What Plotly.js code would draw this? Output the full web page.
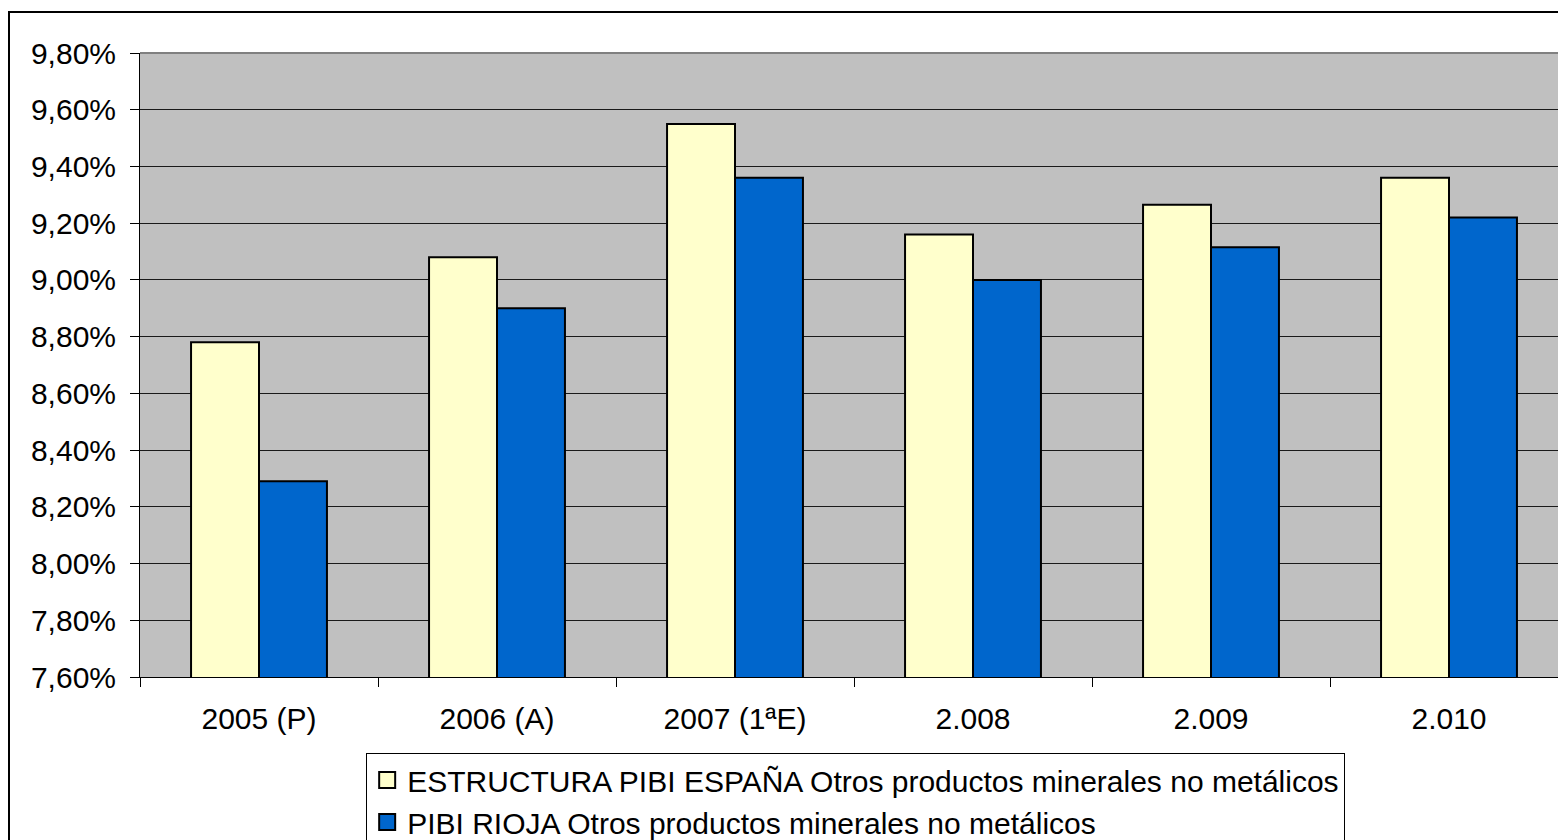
<!DOCTYPE html>
<html>
<head>
<meta charset="utf-8">
<script src="https://cdn.plot.ly/plotly-3.0.1.min.js"></script>
<style>
html,body{margin:0;padding:0;background:#fff;overflow:hidden;}
#wrap{position:relative;width:1558px;height:840px;}
#chart{position:absolute;left:0;top:0;width:1558px;height:840px;}
#frame{position:absolute;left:8px;top:11px;width:1600px;height:900px;border:2px solid #000;pointer-events:none;box-sizing:border-box;}
</style>
</head>
<body>
<div id="wrap"><div id="chart"></div><div id="frame"></div></div>
<script>
const categories = ["2005 (P)", "2006 (A)", "2007 (1ªE)", "2.008", "2.009", "2.010"];
const espana = [8.78, 9.08, 9.55, 9.16, 9.265, 9.36];
const rioja = [8.29, 8.90, 9.36, 9.00, 9.115, 9.22];
const seriesNames = ["ESTRUCTURA PIBI ESPAÑA Otros productos minerales no metálicos", "PIBI RIOJA Otros productos minerales no metálicos"];
const seriesColors = ["#FFFFCC", "#0066CC"];
const yTicks = [7.6, 7.8, 8.0, 8.2, 8.4, 8.6, 8.8, 9.0, 9.2, 9.4, 9.6, 9.8];
const yTickText = yTicks.map(v => v.toFixed(2).replace(".", ",") + "%");

const font = "'Liberation Sans', Arial, sans-serif";
const values = [espana, rioja];
const traces = [];
values.forEach((vals, i) => {
  traces.push({type: "bar", name: seriesNames[i], x: categories, y: vals, showlegend: false,
    legendgroup: "g" + i,
    marker: {color: seriesColors[i], line: {color: "#000", width: 2}}});
});
values.forEach((vals, i) => {
  traces.push({type: "scatter", mode: "markers", name: seriesNames[i], x: [null], y: [null],
    legendgroup: "g" + i, showlegend: true,
    marker: {symbol: "square", size: 16, color: seriesColors[i], line: {color: "#000", width: 2}}});
});

const layout = {
  width: 1558, height: 840,
  margin: {l: 140, r: 0, t: 53, b: 163, autoexpand: false},
  paper_bgcolor: "#fff", plot_bgcolor: "#C0C0C0",
  barmode: "group", bargap: 0.429, bargroupgap: 0,
  font: {family: font, size: 30, color: "#000"},
  xaxis: {type: "category", range: [-0.5, 5.458], tickson: "boundaries",
          ticks: "outside", ticklen: 9, tickcolor: "#000", tickwidth: 1,
          showline: true, linecolor: "#000", linewidth: 1, showgrid: false,
          ticklabelstandoff: 15, tickfont: {family: font, size: 30}},
  yaxis: {range: [7.6, 9.8], tickvals: yTicks, ticktext: yTickText,
          ticks: "outside", ticklen: 9, tickcolor: "#000", tickwidth: 1,
          showline: true, linecolor: "#000", linewidth: 1,
          showgrid: true, gridcolor: "#1a1a1a", gridwidth: 1,
          ticklabelstandoff: 8, tickfont: {family: font, size: 30}},
  showlegend: true,
  legend: {x: 0.1595, y: -0.1218, xanchor: "left", yanchor: "top",
           bgcolor: "#fff", bordercolor: "#000", borderwidth: 1,
           font: {family: font, size: 30}, orientation: "v", traceorder: "normal",
           itemwidth: 30, tracegroupgap: 0},
  shapes: [{type: "line", xref: "paper", yref: "paper", x0: 0, x1: 1, y0: 1, y1: 1,
            line: {color: "#808080", width: 2}}]
};
Plotly.newPlot("chart", traces, layout, {displayModeBar: false, staticPlot: true});
</script>
</body>
</html>
